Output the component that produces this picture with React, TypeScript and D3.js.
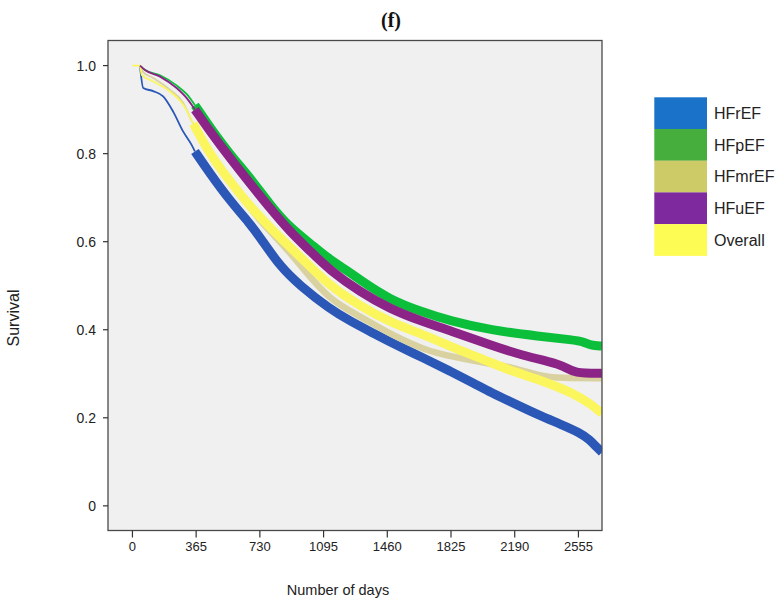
import React from "react";
import * as d3 from "d3";

type Pt = [number, number];

const seriesNames = ["HFrEF", "HFpEF", "HFmrEF", "HFuEF", "Overall"];

const hfref: Pt[] = [
  [43, 1.0], [62, 0.949], [119, 0.942], [176, 0.93], [234, 0.895], [291, 0.85], [339, 0.82],
  [358, 0.805], [444, 0.755], [559, 0.693], [673, 0.641], [731, 0.61], [845, 0.544], [960, 0.5],
  [1131, 0.447], [1246, 0.42], [1390, 0.39], [1476, 0.372], [1676, 0.334], [1820, 0.306],
  [1963, 0.277], [2052, 0.258], [2200, 0.23], [2334, 0.205], [2450, 0.186], [2564, 0.166],
  [2620, 0.15], [2660, 0.133], [2690, 0.122],
];

const hfpef: Pt[] = [
  [43, 1.0], [72, 0.99], [158, 0.978], [253, 0.955], [311, 0.935], [358, 0.91], [444, 0.86],
  [559, 0.798], [673, 0.746], [788, 0.684], [902, 0.632], [1017, 0.597], [1103, 0.567],
  [1246, 0.53], [1304, 0.513], [1476, 0.468], [1650, 0.442], [1821, 0.42], [2052, 0.399],
  [2334, 0.385], [2524, 0.377], [2590, 0.372], [2621, 0.365], [2690, 0.363],
];

const hfmref: Pt[] = [
  [43, 1.0], [62, 0.985], [119, 0.972], [215, 0.945], [291, 0.915], [339, 0.875], [358, 0.862],
  [444, 0.797], [559, 0.736], [673, 0.678], [731, 0.648], [788, 0.625], [902, 0.575], [960, 0.547],
  [1131, 0.466], [1304, 0.431], [1476, 0.39], [1686, 0.352], [1821, 0.34], [2052, 0.322],
  [2166, 0.316], [2334, 0.295], [2450, 0.29], [2690, 0.29],
];

const hfuef: Pt[] = [
  [43, 1.0], [72, 0.99], [158, 0.975], [253, 0.949], [311, 0.926], [358, 0.9], [444, 0.851],
  [559, 0.79], [673, 0.733], [788, 0.676], [902, 0.623], [1017, 0.579], [1131, 0.535],
  [1304, 0.486], [1476, 0.447], [1650, 0.42], [1821, 0.398], [2052, 0.365], [2241, 0.341],
  [2395, 0.327], [2470, 0.318], [2530, 0.301], [2690, 0.301],
];

const overall: Pt[] = [
  [0, 1.0], [43, 1.0], [53, 0.979], [119, 0.964], [215, 0.941], [291, 0.911], [349, 0.868],
  [444, 0.798], [559, 0.737], [673, 0.68], [788, 0.632], [902, 0.588], [1017, 0.544],
  [1131, 0.5], [1304, 0.454], [1476, 0.417], [1686, 0.386], [1821, 0.362], [2052, 0.326],
  [2166, 0.307], [2334, 0.286], [2450, 0.268], [2524, 0.255], [2621, 0.233], [2690, 0.21],
];

const xTicks = [0, 365, 730, 1095, 1460, 1825, 2190, 2555];
const yTicks = [0, 0.2, 0.4, 0.6, 0.8, 1.0];
const yTickLabels = ["0", "0.2", "0.4", "0.6", "0.8", "1.0"];

const lineColors: Record<string, string> = {
  HFrEF: "#2b57b6",
  HFpEF: "#0cbf3b",
  HFmrEF: "#d9d2a0",
  HFuEF: "#8c2487",
  Overall: "#fbf55e",
};
const swatchColors: Record<string, string> = {
  HFrEF: "#1a72c9",
  HFpEF: "#45ae3c",
  HFmrEF: "#cccb68",
  HFuEF: "#7e2a9e",
  Overall: "#fdfc55",
};

const seriesData: Record<string, Pt[]> = {
  HFrEF: hfref,
  HFpEF: hfpef,
  HFmrEF: hfmref,
  HFuEF: hfuef,
  Overall: overall,
};

const drawOrder = ["HFpEF", "HFrEF", "HFmrEF", "Overall", "HFuEF"];

export default function App() {
  const W = 782, H = 606;
  const left = 108, right = 602, top = 40.5, bottom = 530.5;
  const x = d3.scaleLinear().domain([-140, 2690]).range([left, right]);
  const y = d3.scaleLinear().domain([-0.056, 1.057]).range([bottom, top]);
  const thinLine = d3
    .line<Pt>()
    .x((d) => x(d[0]))
    .y((d) => y(d[1]))
    .curve(d3.curveMonotoneX);
  const thickLine = d3
    .line<Pt>()
    .x((d) => x(d[0]))
    .y((d) => y(d[1]))
    .curve(d3.curveBasis);
  const thickFrom = 345;
  const font = "'Liberation Sans', Arial, sans-serif";

  return (
    <svg
      width={W}
      height={H}
      style={{ position: "absolute", left: 0, top: 0, background: "#fff" }}
    >
      <text x={391} y={27} textAnchor="middle" fontFamily="'Liberation Serif', 'Times New Roman', serif" fontWeight="bold" fontSize={20} fill="#111">
        (f)
      </text>
      <rect x={left} y={top} width={right - left} height={bottom - top} fill="#f0f0f0" />
      <defs>
        <clipPath id="plotclip">
          <rect x={left} y={top} width={right - left} height={bottom - top} />
        </clipPath>
      </defs>
      <g clipPath="url(#plotclip)">
        {drawOrder.map((name) => {
          const data = seriesData[name];
          const thin = data.filter((d) => d[0] <= thickFrom + 20);
          const thick = data.filter((d) => d[0] >= thickFrom);
          const isTan = name === "HFmrEF";
          return (
            <g key={name}>
              <path d={thinLine(thin) || ""} fill="none" stroke={lineColors[name]} strokeWidth={1.8} />
              <path
                d={thickLine(thick) || ""}
                fill="none"
                stroke={lineColors[name]}
                strokeWidth={isTan ? 6.5 : 9}
                strokeLinejoin="round"
              />
            </g>
          );
        })}
      </g>
      <rect x={left} y={top} width={right - left} height={bottom - top} fill="none" stroke="#4a4a4a" strokeWidth={1.3} />
      {yTicks.map((t, i) => (
        <g key={"y" + i}>
          <line x1={left - 5} x2={left} y1={y(t)} y2={y(t)} stroke="#333" strokeWidth={1.2} />
          <text x={96} y={y(t) + 5} textAnchor="end" fontFamily={font} fontSize={14} fill="#222">
            {yTickLabels[i]}
          </text>
        </g>
      ))}
      {xTicks.map((t) => (
        <g key={"x" + t}>
          <line x1={x(t)} x2={x(t)} y1={bottom} y2={bottom + 7} stroke="#333" strokeWidth={1.2} />
          <text x={x(t)} y={551} textAnchor="middle" fontFamily={font} fontSize={13} fill="#222">
            {t}
          </text>
        </g>
      ))}
      <text x={338} y={595} textAnchor="middle" fontFamily={font} fontSize={14.5} fill="#222">
        Number of days
      </text>
      <text
        transform="translate(19,318) rotate(-90)"
        textAnchor="middle"
        fontFamily={font}
        fontSize={16}
        fill="#222"
      >
        Survival
      </text>
      {seriesNames.map((name, i) => (
        <g key={"lg" + name}>
          <rect x={654.3} y={97.3 + i * 31.7} width={52.7} height={31.8} fill={swatchColors[name]} />
          <text x={714} y={97.3 + i * 31.7 + 21.5} fontFamily={font} fontSize={16} fill="#222">
            {name}
          </text>
        </g>
      ))}
    </svg>
  );
}
